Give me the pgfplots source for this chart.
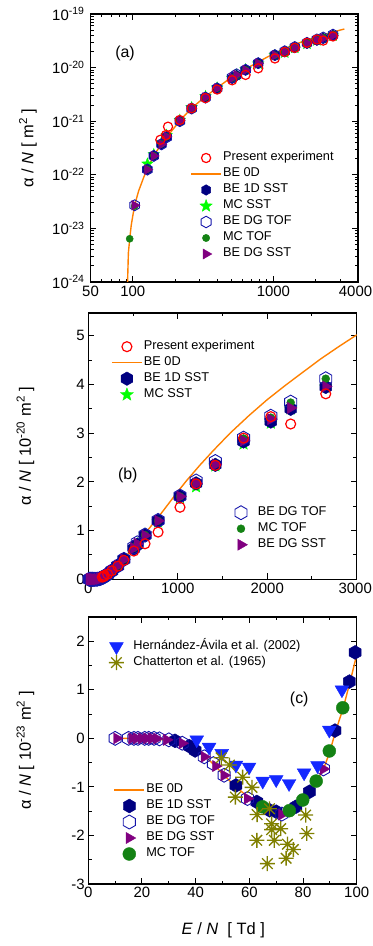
\documentclass[border=0pt]{standalone}
\usepackage{fontspec}
\setmainfont{Liberation Sans}
\usepackage{pgfplots}
\pgfplotsset{compat=1.18}
\usepackage{pgfplotstable}

\definecolor{cexp}{RGB}{255,0,0}
\definecolor{c0d}{RGB}{255,128,0}
\definecolor{cnavy}{RGB}{0,0,128}
\definecolor{cstar}{RGB}{0,255,0}
\definecolor{chex}{RGB}{20,20,170}
\definecolor{cmct}{RGB}{20,130,20}
\definecolor{cpur}{RGB}{128,0,128}
\definecolor{cblue}{RGB}{20,40,255}
\definecolor{colive}{RGB}{128,128,0}

% hexagons, filled star, 8-ray asterisk
\pgfdeclareplotmark{hexo}{%
  \pgfpathmoveto{\pgfqpointpolar{90}{\pgfplotmarksize}}%
  \pgfpathlineto{\pgfqpointpolar{150}{\pgfplotmarksize}}%
  \pgfpathlineto{\pgfqpointpolar{210}{\pgfplotmarksize}}%
  \pgfpathlineto{\pgfqpointpolar{270}{\pgfplotmarksize}}%
  \pgfpathlineto{\pgfqpointpolar{330}{\pgfplotmarksize}}%
  \pgfpathlineto{\pgfqpointpolar{30}{\pgfplotmarksize}}%
  \pgfpathclose\pgfusepathqstroke}
\pgfdeclareplotmark{hexf}{%
  \pgfpathmoveto{\pgfqpointpolar{90}{\pgfplotmarksize}}%
  \pgfpathlineto{\pgfqpointpolar{150}{\pgfplotmarksize}}%
  \pgfpathlineto{\pgfqpointpolar{210}{\pgfplotmarksize}}%
  \pgfpathlineto{\pgfqpointpolar{270}{\pgfplotmarksize}}%
  \pgfpathlineto{\pgfqpointpolar{330}{\pgfplotmarksize}}%
  \pgfpathlineto{\pgfqpointpolar{30}{\pgfplotmarksize}}%
  \pgfpathclose\pgfusepathqfillstroke}
\pgfdeclareplotmark{fstar}{%
  \pgfpathmoveto{\pgfqpointpolar{90}{\pgfplotmarksize}}%
  \pgfpathlineto{\pgfpointpolar{126}{0.42\pgfplotmarksize}}%
  \pgfpathlineto{\pgfqpointpolar{162}{\pgfplotmarksize}}%
  \pgfpathlineto{\pgfpointpolar{198}{0.42\pgfplotmarksize}}%
  \pgfpathlineto{\pgfqpointpolar{234}{\pgfplotmarksize}}%
  \pgfpathlineto{\pgfpointpolar{270}{0.42\pgfplotmarksize}}%
  \pgfpathlineto{\pgfqpointpolar{306}{\pgfplotmarksize}}%
  \pgfpathlineto{\pgfpointpolar{342}{0.42\pgfplotmarksize}}%
  \pgfpathlineto{\pgfqpointpolar{18}{\pgfplotmarksize}}%
  \pgfpathlineto{\pgfpointpolar{54}{0.42\pgfplotmarksize}}%
  \pgfpathclose\pgfusepathqfillstroke}
\pgfdeclareplotmark{ast8}{%
  \pgfpathmoveto{\pgfqpointpolar{0}{\pgfplotmarksize}}\pgfpathlineto{\pgfqpointpolar{180}{\pgfplotmarksize}}%
  \pgfpathmoveto{\pgfqpointpolar{45}{\pgfplotmarksize}}\pgfpathlineto{\pgfqpointpolar{225}{\pgfplotmarksize}}%
  \pgfpathmoveto{\pgfqpointpolar{90}{\pgfplotmarksize}}\pgfpathlineto{\pgfqpointpolar{270}{\pgfplotmarksize}}%
  \pgfpathmoveto{\pgfqpointpolar{135}{\pgfplotmarksize}}\pgfpathlineto{\pgfqpointpolar{315}{\pgfplotmarksize}}%
  \pgfusepathqstroke}

\pgfplotsset{
  pan/.style={
    scale only axis,
    axis line style={line width=1.1pt},
    tick style={black, line width=1pt},
    major tick length=6bp, minor tick length=3.5bp,
    tick align=inside, xtick pos=both, ytick pos=both,
    tick label style={font=\fontsize{15}{18}\selectfont},
    label style={font=\fontsize{16.5}{19}\selectfont},
    ylabel style={at={(axis description cs:-0.214,0.5)}, anchor=base},
    legend style={draw=none, fill=none, inner sep=0pt, outer sep=0pt,
      font=\fontsize{12.8}{15}\selectfont, row sep=0bp, anchor=north west,
      nodes={inner xsep=2bp, inner ysep=0bp, text height=10.5bp, text depth=5.5bp}},
    legend cell align=left,
    legend image code/.code={%
      \path[draw=none, fill=none, use as bounding box] (0bp,-1bp) rectangle (30bp,1bp);
      \draw[mark repeat=2,mark phase=2,##1]
      plot coordinates {(0bp,0bp) (15bp,0bp) (30bp,0bp)};},
  },
  sexp/.style={only marks, mark=o, mark size=#1, color=cexp, line width=1.2pt},
  s0d/.style={no markers, color=c0d, line width=1.4pt},
  s1d/.style={only marks, mark=hexf, mark size=#1, color=cnavy},
  smcs/.style={only marks, mark=fstar, mark size=#1, color=cstar},
  stof/.style={only marks, mark=hexo, mark size=#1, color=chex, line width=0.9pt},
  smct/.style={only marks, mark=*, mark size=#1, color=cmct},
  sdgs/.style={only marks, mark=triangle*, mark size=#1, color=cpur, mark options={rotate=-90}},
  sha/.style={only marks, mark=triangle*, mark size=#1, color=cblue, mark options={rotate=180}},
  sch/.style={only marks, mark=ast8, mark size=#1, color=colive, line width=1.3pt},
}

% alpha/N in units of 1e-20 m^2
\pgfplotstableread{
x     be1d   mcsst  dgtof  mctof   dgsst
95    nan    nan    nan    0.00064 nan
103   nan    nan    0.0027 0.0026  0.0027
127   0.0127 0.016  0.0125 0.0127  0.0125
141   0.0227 0.024  0.0225 0.0227  0.0225
160   0.0376 0.040  0.037  0.0376  0.037
174   0.051  0.055  0.050  0.051   0.051
216   0.102  0.105  0.100  0.102   0.102
262   0.174  0.180  0.172  0.174   0.173
329   0.28   0.29   0.275  0.28    0.28
398   0.41   0.42   0.41   0.41    0.41
509   0.63   0.64   0.66   0.64    0.64
547   0.71   0.72   0.75   0.72    0.73
634   0.90   0.92   0.91   0.91    0.90
780   1.20   1.18   1.21   1.20    1.20
1025  1.70   1.68   1.71   1.70    1.70
1205  1.97   1.90   2.02   1.98    1.97
1420  2.35   2.33   2.42   2.37    2.36
1735  2.83   2.78   2.90   2.89    2.85
2040  3.24   3.21   3.35   3.32    3.29
2262  3.50   3.50   3.64   3.63    3.52
2654  3.95   3.95   4.12   4.12    3.96
}\sims

\pgfplotstableread{
x     y
10    0
15    0
20    0
25    0
30    0
35    0
43    0
47    0
50    0
60    0
72    0
87    0
}\lowb

\pgfplotstableread{
x     y
157   0.045
172   0.055
178   0.079
216   0.105
262   0.174
329   0.27
398   0.39
509   0.58
634   0.73
780   0.97
1025  1.48
1205  1.96
1420  2.34
1735  2.90
2040  3.34
2262  3.19
2654  3.81
}\expt

\pgfplotstableread{
x      y
10     0
80     0
91.75  0.0001
93     0.00035
95     0.00063
97.5   0.00116
100    0.00172
103    0.0027
110    0.0050
120    0.0092
127    0.0128
141    0.0228
160    0.0380
180    0.056
216    0.102
262    0.176
329    0.288
398    0.42
500    0.65
634    0.94
780    1.27
900    1.56
1000   1.80
1100   2.03
1250   2.35
1400   2.65
1584   3.00
1800   3.37
2000   3.69
2200   3.98
2403   4.26
2600   4.53
2800   4.78
3000   5.02
3200   5.25
}\bezd

% panel (c), units of 1e-23 m^2
\pgfplotstableread{
x     y
10    0
15    0
20    -0.005
25    -0.015
30    -0.04
35    -0.10
40    -0.22
43    -0.35
47    -0.55
50    -0.73
55    -1.00
60    -1.23
65    -1.41
70    -1.52
72    -1.55
75    -1.50
78    -1.40
80    -1.29
83    -1.08
85    -0.90
88    -0.58
90    -0.27
92    0.12
95    0.63
97.5  1.16
100   1.72
}\bezdc

\pgfplotstableread{
x     y
32.3  -0.05
37.6  -0.16
39.8  -0.25
55.0  -0.97
62.8  -1.31
67.5  -1.48
70.0  -1.51
77.3  -1.41
82.4  -1.10
91.9  0.16
97.3  1.17
99.4  1.77
}\bonec

\pgfplotstableread{
x     y
10    0
15    0
17    0
18.5  0
21    0
22.5  0
24.5  0
26.5  -0.01
30    -0.03
35    -0.10
43.2  -0.38
46.6  -0.52
50.6  -0.76
59.3  -1.24
72.1  -1.56
87.6  -0.63
}\tofc

\pgfplotstableread{
x     y
10.6  0
16.2  0
18    0
19.9  0
21.8  0
23.7  0
25.5  -0.005
29.2  -0.03
35    -0.10
43.2  -0.38
47.5  -0.57
50.6  -0.76
59.3  -1.24
72.1  -1.57
87.6  -0.63
}\sstc

\pgfplotstableread{
x     y
64.9  -1.41
74.9  -1.49
79.9  -1.27
84.9  -0.88
89.8  -0.26
94.8  0.63
}\mctc

\pgfplotstableread{
x     y
40.4  -0.03
45.0  -0.18
49.7  -0.31
55.0  -0.55
59.9  -0.59
65.0  -0.88
70.0  -0.85
74.8  -0.93
80.4  -0.71
85.4  -0.56
89.8  0.17
94.5  1.00
}\hern

\pgfplotstableread{
x     y
49.5  -0.40
52.6  -0.55
54.8  -1.21
57.5  -0.80
61.0  -1.01
62.9  -1.57
62.8  -2.10
66.7  -2.58
67.5  -1.45
68.3  -1.76
68.3  -1.88
69.3  -2.10
71.7  -1.86
73.7  -2.47
74.2  -2.18
76.4  -2.29
81.0  -1.58
81.4  -1.96
}\chat

\begin{document}
\begin{tikzpicture}
% ---------------- (a)
\begin{axis}[pan, at={(90.5bp,664bp)}, anchor=south west,
  width=267.5bp, height=268bp,
  xmode=log, ymode=log, log basis x=10, log basis y=10,
  xmin=50, xmax=4000, ymin=1e-4, ymax=10,
  xtick={50,100,1000,4000}, xticklabels={50,100,1000,\hspace*{-5bp}4000},
  minor xtick={60,70,80,90,200,300,400,500,600,700,800,900,2000,3000},
  yticklabel={\pgfmathparse{int(round(\tick-20))}10\textsuperscript{\pgfmathresult}},
  yticklabel style={xshift=-2.5bp},
  xticklabel style={yshift=-1bp},
  ylabel={α / \textit{N} [ m\textsuperscript{2} ]},
  legend style={at={(axis description cs:0.376,0.4925)}},
]
\addlegendimage{sexp=4.6}\addlegendentry{Present experiment}
\addlegendimage{s0d}\addlegendentry{BE 0D}
\addlegendimage{s1d=5.3}\addlegendentry{BE 1D SST}
\addlegendimage{smcs=6.5}\addlegendentry{MC SST}
\addlegendimage{stof=5.8}\addlegendentry{BE DG TOF}
\addlegendimage{smct=3.7}\addlegendentry{MC TOF}
\addlegendimage{sdgs=5.8}\addlegendentry{BE DG SST}
\addplot[s0d, forget plot, skip coords between index={0}{2}] table[x=x,y=y] {\bezd};
\addplot[smcs=6, forget plot] table[x=x,y=mcsst] {\sims};
\addplot[s1d=5.3, forget plot] table[x=x,y=be1d] {\sims};
\addplot[stof=5.5, forget plot] table[x=x,y=dgtof] {\sims};
\addplot[smct=3.6, forget plot] table[x=x,y=mctof] {\sims};
\addplot[sdgs=5.5, forget plot] table[x=x,y=dgsst] {\sims};
\addplot[sexp=4.6, forget plot] table[x=x,y=y] {\expt};
\node[font=\fontsize{16}{19}\selectfont] at (axis description cs:0.129,0.854) {(a)};
\end{axis}
% ---------------- (b)
\begin{axis}[pan, at={(88.3bp,366.7bp)}, anchor=south west,
  width=268.4bp, height=266.3bp,
  xmin=0, xmax=3000, ymin=0, ymax=5.47,
  xtick={0,1000,2000,3000}, xticklabels={0,1000,2000,\hspace*{-3bp}3000},
  ytick={0,1,2,3,4,5}, yticklabels={0,1,2,3,4,5},
  minor x tick num=1, minor y tick num=1,
  ylabel={α / \textit{N} [ 10\textsuperscript{-20} m\textsuperscript{2} ]},
  legend style={at={(axis description cs:0.088,0.9035)}},
]
\addlegendimage{sexp=5}\addlegendentry{Present experiment}
\addlegendimage{s0d}\addlegendentry{BE 0D}
\addlegendimage{s1d=6.8}\addlegendentry{BE 1D SST}
\addlegendimage{smcs=6.8}\addlegendentry{MC SST}
\addplot[s0d, forget plot] table[x=x,y=y] {\bezd};
\addplot[smcs=6.5, forget plot] table[x=x,y=mcsst] {\sims};
\addplot[s1d=6.8, forget plot] table[x=x,y=be1d] {\sims};
\addplot[stof=7, forget plot] table[x=x,y=dgtof] {\sims};
\addplot[stof=7, forget plot] table[x=x,y=y] {\lowb};
\addplot[smct=4, forget plot] table[x=x,y=mctof] {\sims};
\addplot[sdgs=6.5, forget plot] table[x=x,y=dgsst] {\sims};
\addplot[sdgs=6.5, forget plot] table[x=x,y=y] {\lowb};
\addplot[sexp=5, forget plot] table[x=x,y=y] {\expt};
\node[font=\fontsize{16}{19}\selectfont] at (axis description cs:0.147,0.392) {(b)};
\end{axis}
\begin{axis}[pan, hide axis, at={(88.3bp,366.7bp)}, anchor=south west,
  width=268.4bp, height=266.3bp,
  xmin=0, xmax=3000, ymin=0, ymax=5.47,
  legend style={at={(axis description cs:0.513,0.28)}},
]
\addlegendimage{stof=7}\addlegendentry{BE DG TOF}
\addlegendimage{smct=4}\addlegendentry{MC TOF}
\addlegendimage{sdgs=6.5}\addlegendentry{BE DG SST}
\end{axis}
% ---------------- (c)
\begin{axis}[pan, at={(88.3bp,62bp)}, anchor=south west,
  width=268.4bp, height=267bp,
  xmin=0, xmax=100, ymin=-3, ymax=2.5,
  xtick={0,20,40,60,80,100}, xticklabels={0,20,40,60,80,100},
  ytick={-3,-2,-1,0,1,2}, yticklabels={-3,-2,-1,0,1,2},
  minor x tick num=1, minor y tick num=1,
  ylabel={α / \textit{N} [ 10\textsuperscript{-23} m\textsuperscript{2} ]},
  xlabel={\textit{E} / \textit{N}\ \ [ Td ]},
  xlabel style={at={(axis description cs:0.503,-0.191)}, anchor=base},
  legend style={at={(axis description cs:0.0969,0.382)}},
]
\addlegendimage{s0d}\addlegendentry{BE 0D}
\addlegendimage{s1d=7}\addlegendentry{BE 1D SST}
\addlegendimage{stof=7}\addlegendentry{BE DG TOF}
\addlegendimage{sdgs=6.5}\addlegendentry{BE DG SST}
\addlegendimage{smct=6.5}\addlegendentry{MC TOF}
\addplot[s0d, forget plot] table[x=x,y=y] {\bezdc};
\addplot[s1d=7, forget plot] table[x=x,y=y] {\bonec};
\addplot[stof=7, forget plot] table[x=x,y=y] {\tofc};
\addplot[sdgs=6.5, forget plot] table[x=x,y=y] {\sstc};
\addplot[smct=6.5, forget plot] table[x=x,y=y] {\mctc};
\addplot[sha=8, forget plot] table[x=x,y=y] {\hern};
\addplot[sch=7.5, forget plot] table[x=x,y=y] {\chat};
\node[font=\fontsize{16}{19}\selectfont] at (axis description cs:0.786,0.692) {(c)};
\end{axis}
\begin{axis}[pan, hide axis, at={(88.3bp,62bp)}, anchor=south west,
  width=268.4bp, height=267bp,
  xmin=0, xmax=100, ymin=-3, ymax=2.5,
  legend style={at={(axis description cs:0.049,0.919)}},
]
\addlegendimage{sha=8}\addlegendentry{Hernández-Ávila et al. (2002)}
\addlegendimage{sch=7.5}\addlegendentry{Chatterton et al. (1965)}
\end{axis}
\pgfresetboundingbox
\path (0bp,0bp) rectangle (373bp,946bp);
\end{tikzpicture}
\end{document}
